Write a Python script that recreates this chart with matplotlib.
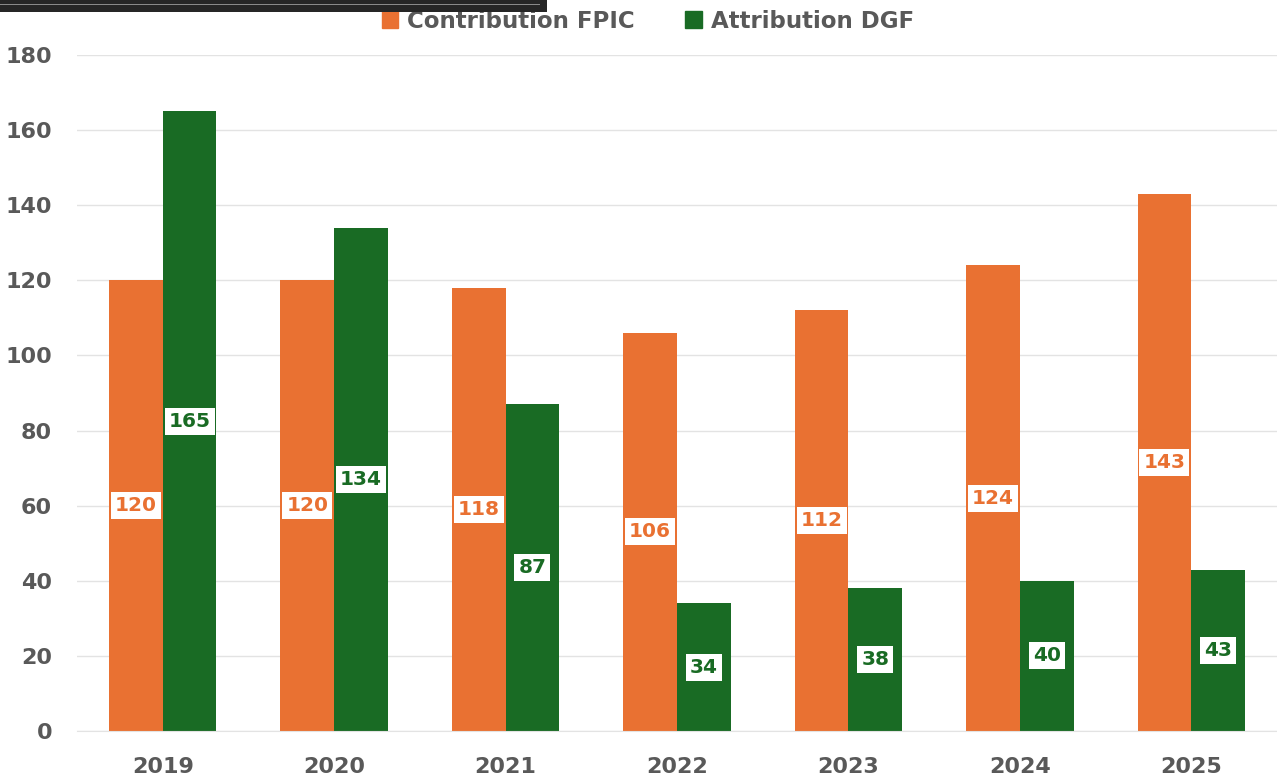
import matplotlib
matplotlib.use("Agg")
import matplotlib.pyplot as plt
from matplotlib.patches import Rectangle, Patch
import numpy as np

years = ["2019", "2020", "2021", "2022", "2023", "2024", "2025"]
contribution_fpic = [120, 120, 118, 106, 112, 124, 143]
attribution_dgf = [165, 134, 87, 34, 38, 40, 43]
series_names = ["Contribution FPIC", "Attribution DGF"]
yticks = [0, 20, 40, 60, 80, 100, 120, 140, 160, 180]

ORANGE = "#E97132"
GREEN = "#196B24"
TXT = "#595959"

W, H = 1277, 778
fig = plt.figure(figsize=(W / 100, H / 100), dpi=100)
ax = fig.add_axes([77 / W, 1 - 731 / H, 1200 / W, (731 - 55) / H])

x = np.arange(len(years))
bw = 0.313
b1 = ax.bar(x - bw / 2, contribution_fpic, width=bw, color=ORANGE, zorder=3)
b2 = ax.bar(x + bw / 2, attribution_dgf, width=bw, color=GREEN, zorder=3)

for bars, vals, col in [(b1, contribution_fpic, ORANGE), (b2, attribution_dgf, GREEN)]:
    for r, v in zip(bars, vals):
        ax.text(r.get_x() + r.get_width() / 2, v / 2, str(v), ha="center", va="center",
                fontsize=14.5, fontweight="bold", color=col, zorder=5,
                bbox=dict(boxstyle="square,pad=0.2", fc="white", ec="none"))

ax.set_xlim(-0.5, len(years) - 0.5)
ax.set_ylim(0, 180)
ax.set_yticks(yticks)
ax.set_xticks(x)
ax.set_xticklabels(years)
ax.grid(axis="y", color="#e3e3e3", linewidth=1, zorder=0)
for s in ["top", "right", "left"]:
    ax.spines[s].set_visible(False)
ax.spines["bottom"].set_color("#e3e3e3")
ax.spines["bottom"].set_zorder(4)
ax.tick_params(axis="both", length=0, labelsize=16, labelcolor=TXT)
ax.tick_params(axis="y", pad=18)
ax.tick_params(axis="x", pad=19)
for lab in ax.get_xticklabels() + ax.get_yticklabels():
    lab.set_fontweight("bold")

handles = [Patch(color=ORANGE), Patch(color=GREEN)]
leg = fig.legend(handles, series_names, loc="center", bbox_to_anchor=(648 / W, 1 - 21 / H),
                 ncol=2, frameon=False, handlelength=0.7, handleheight=0.7,
                 handletextpad=0.4, columnspacing=2.2,
                 prop=dict(size=16.5, weight="bold"))
for t in leg.get_texts():
    t.set_color(TXT)

# dark frame fragment at the top-left edge of the reference image
fig.patches.append(Rectangle((0, 1 - 12 / H), 547 / W, 12 / H, transform=fig.transFigure,
                             facecolor="#262626", edgecolor="none", zorder=10))
fig.patches.append(Rectangle((0, 1 - 5 / H), 540 / W, 1.2 / H, transform=fig.transFigure,
                             facecolor="#8a8a8a", edgecolor="none", zorder=11))

fig.savefig("out.png", dpi=100, facecolor="white")
